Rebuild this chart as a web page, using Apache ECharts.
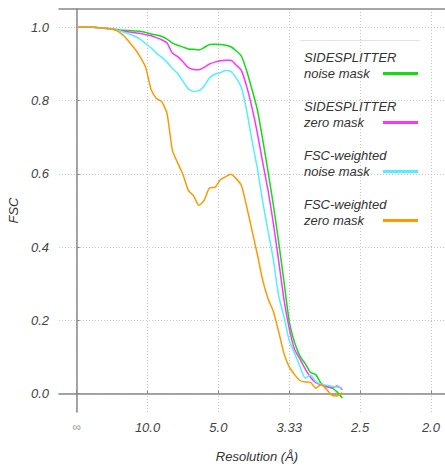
<!DOCTYPE html>
<html>
<head>
<meta charset="utf-8">
<script src="https://cdn.jsdelivr.net/npm/echarts@6/dist/echarts.min.js"></script>
<style>
html, body {margin: 0; padding: 0; background: #fff;}
#fsc {width: 445px; height: 467px;}
</style>
</head>
<body>
<div id="fsc"></div>
<script>
// spatial frequency (1/Å) of each FSC shell
var freq = [0, 0.0075, 0.015, 0.0225, 0.03, 0.0375, 0.045, 0.0525, 0.06, 0.0675,
    0.075, 0.0825, 0.09, 0.0975, 0.105, 0.1125, 0.12, 0.1275, 0.135, 0.1425,
    0.15, 0.1575, 0.165, 0.1725, 0.18, 0.1875, 0.195, 0.2025, 0.21, 0.2175,
    0.225, 0.2325, 0.24, 0.2475, 0.255, 0.2625, 0.27, 0.2775, 0.285, 0.2925,
    0.3, 0.3075, 0.315, 0.3225, 0.33, 0.3375, 0.345, 0.3525, 0.36, 0.3675, 0.375];

var sideNoise = [1.0, 1.0, 1.0, 1.0, 0.999, 0.998, 0.997, 0.995, 0.993, 0.992,
    0.991, 0.990, 0.989, 0.986, 0.982, 0.979, 0.975, 0.968, 0.957, 0.951,
    0.946, 0.941, 0.940, 0.938, 0.945, 0.953, 0.954, 0.953, 0.951, 0.947,
    0.936, 0.921, 0.881, 0.830, 0.775, 0.694, 0.607, 0.516, 0.415, 0.307,
    0.198, 0.140, 0.103, 0.082, 0.058, 0.052, 0.028, 0.020, 0.016, 0.005, -0.012];

var sideZero = [1.0, 1.0, 1.0, 1.0, 0.999, 0.998, 0.996, 0.994, 0.991, 0.989,
    0.987, 0.985, 0.983, 0.980, 0.977, 0.972, 0.966, 0.957, 0.930, 0.920,
    0.906, 0.890, 0.885, 0.884, 0.891, 0.900, 0.905, 0.909, 0.910, 0.910,
    0.897, 0.882, 0.838, 0.780, 0.711, 0.632, 0.556, 0.466, 0.364, 0.258,
    0.178, 0.121, 0.095, 0.068, 0.045, 0.030, 0.024, 0.019, 0.016, 0.021, 0.011];

var fscwNoise = [1.0, 1.0, 1.0, 1.0, 0.999, 0.998, 0.996, 0.994, 0.991, 0.986,
    0.981, 0.975, 0.967, 0.955, 0.944, 0.929, 0.918, 0.905, 0.888, 0.874,
    0.853, 0.832, 0.825, 0.827, 0.840, 0.862, 0.872, 0.876, 0.882, 0.880,
    0.862, 0.835, 0.772, 0.690, 0.615, 0.525, 0.445, 0.367, 0.268, 0.211,
    0.145, 0.110, 0.075, 0.043, 0.050, 0.033, 0.026, 0.023, 0.020, 0.018, 0.015];

var fscwZero = [1.0, 1.0, 1.0, 1.0, 0.999, 0.998, 0.997, 0.994, 0.987, 0.975,
    0.958, 0.940, 0.918, 0.890, 0.830, 0.806, 0.797, 0.765, 0.665, 0.630,
    0.598, 0.555, 0.540, 0.514, 0.528, 0.562, 0.563, 0.583, 0.592, 0.599,
    0.587, 0.568, 0.510, 0.445, 0.380, 0.310, 0.260, 0.225, 0.170, 0.110,
    0.073, 0.052, 0.036, 0.032, 0.031, 0.015, 0.025, 0.012, -0.004, -0.006, 0.003];

var seriesNames = ['SIDESPLITTER\nnoise mask', 'SIDESPLITTER\nzero mask',
    'FSC-weighted\nnoise mask', 'FSC-weighted\nzero mask'];
var seriesColors = ['#11dd11', '#ff33ff', '#55eeff', '#ff9900'];

// x ticks sit at frequency, labelled with resolution
var resTickFreq = [0, 0.1, 0.2, 0.3, 0.4, 0.5];
var resTickLabels = ['∞', '10.0', '5.0', '3.33', '2.5', '2.0'];
var fscTicks = [0, 0.2, 0.4, 0.6, 0.8, 1.0];

var fontName = '"Liberation Sans", Arial, sans-serif';

function pairs(ys) {
    var out = [];
    for (var i = 0; i < freq.length; i++) {
        out.push([freq[i], ys[i]]);
    }
    return out;
}

var chart = echarts.init(document.getElementById('fsc'), null, {renderer: 'svg'});
var allValues = [sideNoise, sideZero, fscwNoise, fscwZero];

chart.setOption({
    animation: false,
    textStyle: {fontFamily: fontName},
    // plot frame runs a little past the right edge of the picture
    grid: {left: 59, top: 9, width: 396, bottom: 55, outerBoundsMode: 'none'},
    legend: {
        orient: 'vertical',
        right: 27,
        top: 49,
        padding: 0,
        align: 'right',
        itemWidth: 35,
        itemHeight: 3,
        itemGap: 0,
        icon: 'rect',
        formatter: function (name) {
            var parts = name.split('\n');
            return '{t|' + parts[0] + '}\n{t|' + parts[1] + '}';
        },
        textStyle: {
            padding: [0, 0, 16, 0],
            backgroundColor: 'rgba(255,255,255,0)',
            rich: {
                t: {
                    width: 74,
                    align: 'left',
                    fontSize: 13,
                    fontStyle: 'italic',
                    lineHeight: 16.5,
                    color: '#333',
                    fontFamily: fontName
                }
            }
        },
        data: seriesNames
    },
    graphic: [{
        type: 'line',
        shape: {x1: 300, y1: 40.5, x2: 420, y2: 40.5},
        style: {stroke: '#e2e2e2', lineWidth: 1}
    }],
    xAxis: [{
        type: 'value',
        min: -0.025,
        max: 0.534,
        name: 'Resolution (Å)',
        nameLocation: 'middle',
        nameGap: 38,
        nameTextStyle: {fontSize: 13, fontStyle: 'italic', color: '#333'},
        axisLine: {lineStyle: {color: '#888', width: 1.5}},
        axisTick: {show: true, inside: true, length: 3, customValues: resTickFreq, lineStyle: {color: '#888'}},
        axisLabel: {
            customValues: resTickFreq,
            margin: 9,
            fontSize: 13,
            fontStyle: 'italic',
            color: '#444',
            formatter: function (v) {
                var i = resTickFreq.indexOf(v);
                if (i === 0) return '{inf|' + resTickLabels[0] + '}';
                return i < 0 ? '' : resTickLabels[i];
            },
            rich: {inf: {fontSize: 12, color: '#999', fontStyle: 'normal'}}
        },
        splitLine: {show: true, lineStyle: {color: '#c4c4c4', type: [1, 2], width: 1}}
    }, {
        type: 'value',
        position: 'top',
        min: -0.025,
        max: 0.534,
        axisLine: {show: true, onZero: false, lineStyle: {color: '#888', width: 1.5}},
        axisTick: {show: false},
        axisLabel: {show: false},
        splitLine: {show: false}
    }],
    yAxis: {
        type: 'value',
        min: -0.05,
        max: 1.05,
        name: 'FSC',
        nameLocation: 'middle',
        nameGap: 28,
        nameTextStyle: {fontSize: 13, fontStyle: 'italic', color: '#333'},
        axisLine: {show: true, lineStyle: {color: '#888', width: 1.5}},
        axisTick: {show: true, inside: true, length: 3, customValues: fscTicks, lineStyle: {color: '#888'}},
        axisLabel: {
            customValues: fscTicks,
            margin: 10,
            fontSize: 13,
            fontStyle: 'italic',
            color: '#444',
            formatter: function (v) { return v.toFixed(1); }
        },
        splitLine: {show: true, lineStyle: {color: '#c4c4c4', type: [1, 2], width: 1}}
    },
    series: seriesNames.map(function (name, k) {
        return {
            name: name,
            type: 'line',
            xAxisIndex: 0,
            showSymbol: false,
            smooth: 0.2,
            color: seriesColors[k],
            lineStyle: {width: 1.5, color: seriesColors[k]},
            data: pairs(allValues[k])
        };
    })
});
</script>
</body>
</html>
